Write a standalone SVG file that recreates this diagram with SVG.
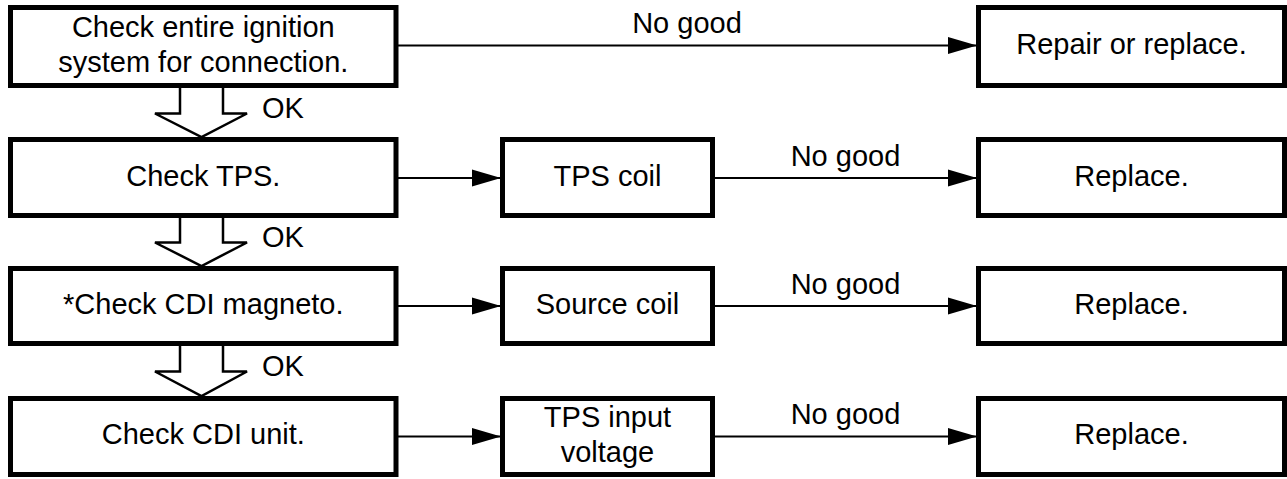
<svg xmlns="http://www.w3.org/2000/svg" width="1287" height="479" viewBox="0 0 1287 479">
<style>
.box{fill:#fff;stroke:#000;stroke-width:5}
.t{font-family:"Liberation Sans",Arial,Helvetica,sans-serif;font-size:29px;fill:#000;text-anchor:middle}
.ok{font-family:"Liberation Sans",Arial,Helvetica,sans-serif;font-size:29px;fill:#000}
.c{stroke:#000;stroke-width:2.2;fill:none}
.h{stroke:#000;stroke-width:2.5;fill:none;stroke-linejoin:miter}
</style>
<defs>
<marker id="ah" markerUnits="userSpaceOnUse" markerWidth="29" markerHeight="18" refX="29" refY="8.5" orient="auto" viewBox="0 0 29 17">
<path d="M0,0 L29,8.5 L0,17 Z" fill="#000"/>
</marker>
</defs>
<rect width="1287" height="479" fill="#fff"/>
<g id="connectors">
<line class="c" x1="398" y1="45.5" x2="977" y2="45.5" marker-end="url(#ah)"/>
<line class="c" x1="398" y1="178" x2="501" y2="178" marker-end="url(#ah)"/>
<line class="c" x1="715" y1="178" x2="977" y2="178" marker-end="url(#ah)"/>
<line class="c" x1="398" y1="306" x2="501" y2="306" marker-end="url(#ah)"/>
<line class="c" x1="715" y1="306" x2="977" y2="306" marker-end="url(#ah)"/>
<line class="c" x1="398" y1="436.5" x2="501" y2="436.5" marker-end="url(#ah)"/>
<line class="c" x1="715" y1="436.5" x2="977" y2="436.5" marker-end="url(#ah)"/>
<path class="h" d="M180,88 V113.5 H155 L201.5,137 L247,113.5 H223 V88"/>
<path class="h" d="M180,218 V242.5 H155 L201.5,266 L247,242.5 H223 V218"/>
<path class="h" d="M180,346 V371.5 H155 L201.5,396 L247,371.5 H223 V346"/>
<text class="t" x="687" y="32.5">No good</text>
<text class="t" x="845.5" y="165.5">No good</text>
<text class="t" x="845.5" y="294">No good</text>
<text class="t" x="845.5" y="424">No good</text>
<text class="ok" x="262" y="118">OK</text>
<text class="ok" x="262" y="247">OK</text>
<text class="ok" x="262" y="376">OK</text>
</g>
<g id="n-check-ignition">
<rect class="box" x="10.5" y="7.5" width="385.5" height="78"/>
<text class="t" x="203.3" y="37">Check entire ignition</text>
<text class="t" x="203.3" y="72">system for connection.</text>
</g>
<g id="n-repair">
<rect class="box" x="978.5" y="7.5" width="306" height="78"/>
<text class="t" x="1131.5" y="54">Repair or replace.</text>
</g>
<g id="n-check-tps">
<rect class="box" x="10.5" y="139.5" width="385.5" height="76"/>
<text class="t" x="203.3" y="185.5">Check TPS.</text>
</g>
<g id="n-tps-coil">
<rect class="box" x="502.5" y="139.5" width="210" height="76"/>
<text class="t" x="607.5" y="185.5">TPS coil</text>
</g>
<g id="n-replace-1">
<rect class="box" x="978.5" y="139.5" width="306" height="76"/>
<text class="t" x="1131.5" y="185.5">Replace.</text>
</g>
<g id="n-check-cdi-magneto">
<rect class="box" x="10.5" y="268.5" width="385.5" height="75"/>
<text class="t" x="203.3" y="313.5">*Check CDI magneto.</text>
</g>
<g id="n-source-coil">
<rect class="box" x="502.5" y="268.5" width="210" height="75"/>
<text class="t" x="607.5" y="313.5">Source coil</text>
</g>
<g id="n-replace-2">
<rect class="box" x="978.5" y="268.5" width="306" height="75"/>
<text class="t" x="1131.5" y="313.5">Replace.</text>
</g>
<g id="n-check-cdi-unit">
<rect class="box" x="10.5" y="398.5" width="385.5" height="76"/>
<text class="t" x="203.3" y="444">Check CDI unit.</text>
</g>
<g id="n-tps-input">
<rect class="box" x="502.5" y="398.5" width="210" height="76"/>
<text class="t" x="607.5" y="426.5">TPS input</text>
<text class="t" x="607.5" y="461.5">voltage</text>
</g>
<g id="n-replace-3">
<rect class="box" x="978.5" y="398.5" width="306" height="76"/>
<text class="t" x="1131.5" y="444">Replace.</text>
</g>
</svg>
